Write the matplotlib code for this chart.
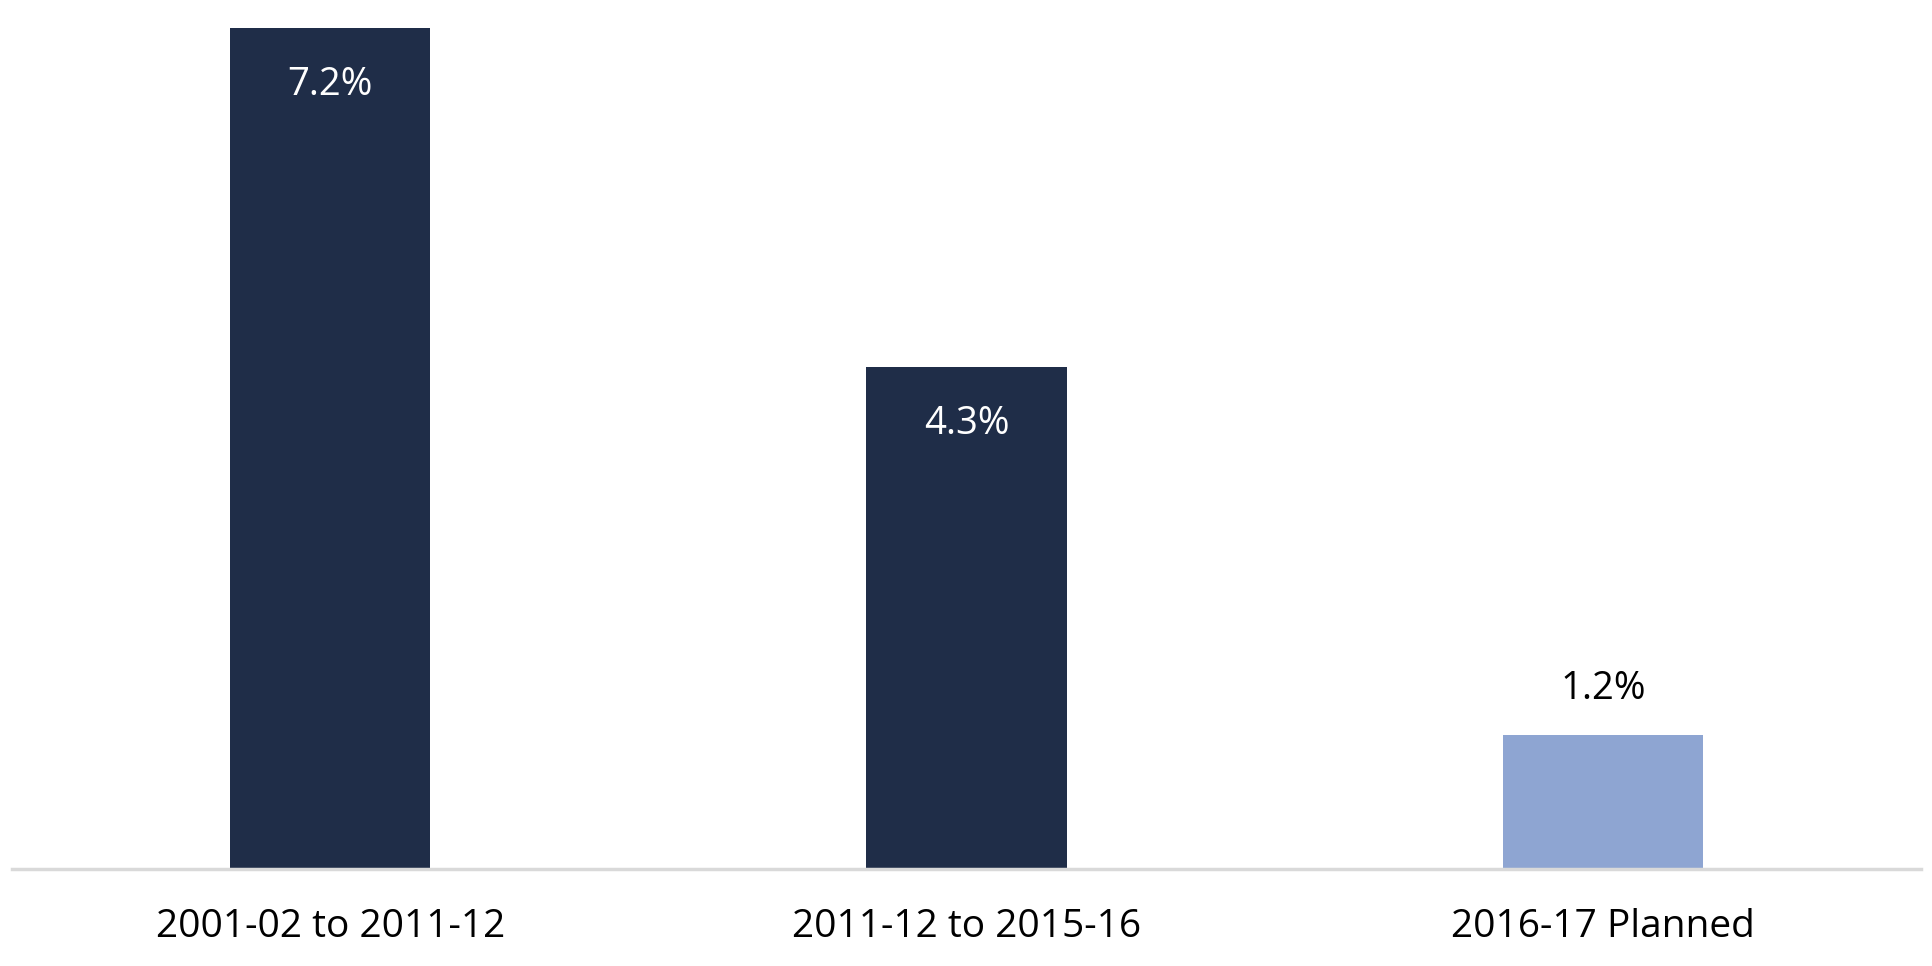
import matplotlib
matplotlib.use("Agg")
from matplotlib import pyplot as plt

categories = ["2001-02 to 2011-12", "2011-12 to 2015-16", "2016-17 Planned"]
values = [7.2, 4.3, 1.15]
value_labels = ["7.2%", "4.3%", "1.2%"]
colors = ["#1f2d48", "#1f2d48", "#8ea5d2"]

plt.rcParams['font.family'] = ['Open Sans', 'DejaVu Sans']

fig = plt.figure(figsize=(19.32, 9.66), dpi=100)
ax = fig.add_axes([12 / 1932, 97 / 966, 1909 / 1932, (869 - 28) / 966])

x = range(len(categories))
bars = ax.bar(x, values, width=0.315, color=colors)

# labels: white inside the dark bars, black above the planned one
for i, (b, lab) in enumerate(zip(bars, value_labels)):
    if i < 2:
        ax.annotate(lab, (b.get_x() + b.get_width() / 2, b.get_height()),
                    xytext=(0, -41), textcoords="offset points",
                    ha="center", va="center", color="white", fontsize=27.5)
    else:
        ax.annotate(lab, (b.get_x() + b.get_width() / 2, b.get_height()),
                    xytext=(0, 33), textcoords="offset points",
                    ha="center", va="center", color="black", fontsize=27.5)

ax.set_xlim(-0.5, 2.5)
ax.set_ylim(0, 7.2)
ax.set_xticks(list(x))
ax.set_xticklabels(categories, fontsize=28)
ax.tick_params(axis="x", length=0, pad=28)
ax.set_yticks([])
for s in ["top", "right", "left"]:
    ax.spines[s].set_visible(False)
ax.spines["bottom"].set_color("#d9d9d9")
ax.spines["bottom"].set_linewidth(2.5)

fig.savefig("out.png", dpi=100)
